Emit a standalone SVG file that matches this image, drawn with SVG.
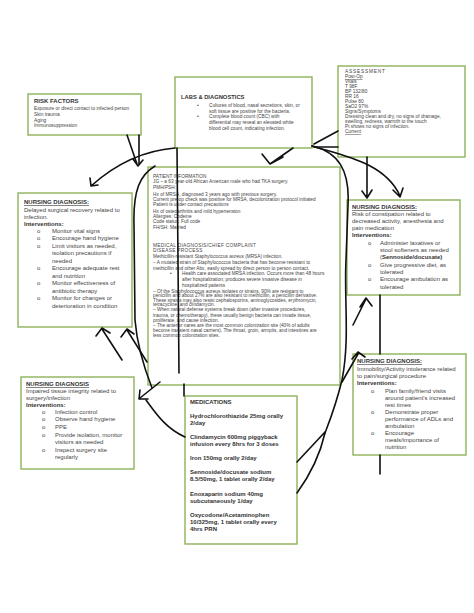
<svg xmlns="http://www.w3.org/2000/svg" width="474" height="613" viewBox="0 0 474 613">
<style>
.box{fill:#fff;stroke:#8db35a;stroke-width:1.4}
text{font-family:"Liberation Sans",Arial,sans-serif;fill:#444}
.f6{font-size:6px}
.f5{font-size:4.8px}
.f47{font-size:4.75px}
.b{font-weight:bold;fill:#333}
.u{text-decoration:underline}
.c{fill:none;stroke:#111;stroke-width:1.6;stroke-linecap:round;stroke-linejoin:round}
</style>
<rect width="474" height="613" fill="#fff"/>

<g id="risk-factors">
<rect class="box" x="28" y="94" width="113" height="41"/>
<text class="f6 b" x="34" y="103">RISK FACTORS</text>
<text class="f5" x="34" y="110">Exposure or direct contact to infected person</text>
<text class="f5" x="34" y="116">Skin trauma</text>
<text class="f5" x="34" y="121.5">Aging</text>
<text class="f5" x="34" y="127">Immunosuppression</text>
</g>

<g id="labs">
<rect class="box" x="175" y="77" width="137" height="71"/>
<text class="b" style="font-size:5.8px" x="181" y="99">LABS &amp; DIAGNOSTICS</text>
<text class="f47" x="197" y="107">•</text>
<text class="f47" x="209" y="107">Cultures of blood, nasal secretions, skin, or</text>
<text class="f47" x="209" y="113">soft tissue are positive for the bacteria.</text>
<text class="f47" x="197" y="118">•</text>
<text class="f47" x="209" y="118">Complete blood count (CBC) with</text>
<text class="f47" x="209" y="124">differential may reveal an elevated white</text>
<text class="f47" x="209" y="130">blood cell count, indicating infection.</text>
</g>

<g id="assessment">
<rect class="box" x="338" y="66" width="127" height="91"/>
<text class="f5" x="345" y="73" letter-spacing="0.8">ASSESSMENT</text>
<text class="f5 u" x="345" y="78">Post-Op</text>
<text class="f5" x="345" y="83">Vitals</text>
<text class="f5" x="345" y="88">T 98F</text>
<text class="f5" x="345" y="93">BP 132/80</text>
<text class="f5" x="345" y="98">RR 16</text>
<text class="f5" x="345" y="103">Pulse 80</text>
<text class="f5" x="345" y="108">SaO2 97%</text>
<text class="f5" x="345" y="113">Signs/Symptoms</text>
<text class="f5" x="345" y="118">Dressing clean and dry, no signs of drainage,</text>
<text class="f5" x="345" y="123">swelling, redness, warmth to the touch</text>
<text class="f5" x="345" y="128">Pt shows no signs of infection.</text>
<text class="f5 u" x="345" y="133">Current</text>
</g>

<g id="nd-recovery">
<rect class="box" x="18" y="193" width="114" height="134"/>
<text class="f6 b u" x="24" y="204">NURSING DIAGNOSIS:</text>
<text class="f6" x="24" y="212">Delayed surgical recovery related to</text>
<text class="f6" x="24" y="219">infection.</text>
<text class="f6 b" x="24" y="226">Interventions:</text>
<text class="f6" x="37" y="233">o</text><text class="f6" x="52" y="233">Monitor vital signs</text>
<text class="f6" x="37" y="240">o</text><text class="f6" x="52" y="240">Encourage hand hygiene</text>
<text class="f6" x="37" y="248">o</text><text class="f6" x="52" y="248">Limit visitors as needed,</text>
<text class="f6" x="52" y="255">isolation precautions if</text>
<text class="f6" x="52" y="263">needed</text>
<text class="f6" x="37" y="270">o</text><text class="f6" x="52" y="270">Encourage adequate rest</text>
<text class="f6" x="52" y="278">and nutrition</text>
<text class="f6" x="37" y="285">o</text><text class="f6" x="52" y="285">Monitor effectiveness of</text>
<text class="f6" x="52" y="293">antibiotic therapy</text>
<text class="f6" x="37" y="300">o</text><text class="f6" x="52" y="300">Monitor for changes or</text>
<text class="f6" x="52" y="308">deterioration in condition</text>
</g>

<g id="patient-info">
<rect class="box" x="148" y="167" width="192" height="218"/>
<text class="f47" x="153" y="177.5">PATIENT INFORMATION</text>
<text class="f47" x="153" y="183">JG – a 63 year-old African American male who had TKA surgery.</text>
<text class="f47" x="153" y="188.5">PMH/PSH:</text>
<text class="f47" x="153" y="195.5">Hx of MRSA, diagnosed 3 years ago with previous surgery.</text>
<text class="f47" x="153" y="200.5">Current pre-op check was positive for MRSA, decolonization protocol initiated</text>
<text class="f47" x="153" y="205.5">Patient is under contact precautions</text>
<text class="f47" x="153" y="212.5">Hx of osteoarthritis and mild hypertension</text>
<text class="f47" x="153" y="218">Allergies: Codeine</text>
<text class="f47" x="153" y="223">Code status: Full code</text>
<text class="f47" x="153" y="229">FH/SH: Married</text>
<text class="f47" x="153" y="246.5" letter-spacing="0.3">MEDICAL DIAGNOSIS/CHIEF COMPLAINT</text>
<text class="f47" x="153" y="251.5" letter-spacing="0.3">DISEASE PROCESS</text>
<text class="f47" x="153" y="257.5">Methicillin-resistant Staphylococcus aureus (MRSA) infection.</text>
<text class="f47" x="153" y="263.5">– A mutated strain of Staphylococcus bacteria that has become resistant to</text>
<text class="f47" x="153" y="269.5">methicillin and other Abx, easily spread by direct person to person contact.</text>
<text class="f47" x="170" y="275">•</text>
<text class="f47" x="182" y="275">Health care associated MRSA infection. Occurs more than 48 hours</text>
<text class="f47" x="182" y="280.5">after hospitalization; produces severe invasive disease in</text>
<text class="f47" x="182" y="286.5">hospitalized patients</text>
<text class="f47" x="153" y="292.5">– Of the Staphylococcus aureus isolates or strains, 90% are resistant to</text>
<text class="f47" x="153" y="297">penicillin and about 27% are also resistant to methicillin, a penicillin derivative.</text>
<text class="f47" x="153" y="301.5">These strains may also resist cephalosporins, aminoglycosides, erythromycin,</text>
<text class="f47" x="153" y="306">tetracycline, and clindamycin.</text>
<text class="f47" x="153" y="311">– When natural defense systems break down (after invasive procedures,</text>
<text class="f47" x="153" y="316.5">trauma, or chemotherapy), these usually benign bacteria can invade tissue,</text>
<text class="f47" x="153" y="321.5">proliferate, and cause infection.</text>
<text class="f47" x="153" y="326.5">– The anterior nares are the most common colonization site (40% of adults</text>
<text class="f47" x="153" y="331.5">become transient nasal carriers). The throat, groin, armpits, and intestines are</text>
<text class="f47" x="153" y="336.5">less common colonization sites.</text>
</g>

<g id="nd-constipation">
<rect class="box" x="347" y="200" width="113" height="95"/>
<text class="f6 b u" x="352" y="209">NURSING DIAGNOSIS:</text>
<text class="f6" x="352" y="216">Risk of constipation related to</text>
<text class="f6" x="352" y="223">decreased activity, anesthesia and</text>
<text class="f6" x="352" y="230">pain medication</text>
<text class="f6 b" x="352" y="237">Interventions:</text>
<text class="f6" x="368" y="245">o</text><text class="f6" x="380" y="245">Administer laxatives or</text>
<text class="f6" x="380" y="252">stool softeners as needed</text>
<text class="f6" x="380" y="259">(<tspan class="b">Sennoside/docusate)</tspan></text>
<text class="f6" x="368" y="267">o</text><text class="f6" x="380" y="267">Give progressive diet, as</text>
<text class="f6" x="380" y="274">tolerated</text>
<text class="f6" x="368" y="281">o</text><text class="f6" x="380" y="281">Encourage ambulation as</text>
<text class="f6" x="380" y="289">tolerated</text>
</g>

<g id="nd-mobility">
<rect class="box" x="353" y="354" width="113" height="101"/>
<text class="f6 b u" x="357" y="363">NURSING DIAGNOSIS:</text>
<text class="f6" x="357" y="371">Immobility/Activity intolerance related</text>
<text class="f6" x="357" y="378">to pain/surgical procedure</text>
<text class="f6 b" x="357" y="385">Interventions:</text>
<text class="f6" x="371" y="393">o</text><text class="f6" x="385" y="393">Plan family/friend visits</text>
<text class="f6" x="385" y="400">around patient's increased</text>
<text class="f6" x="385" y="407">rest times</text>
<text class="f6" x="371" y="414">o</text><text class="f6" x="385" y="414">Demonstrate proper</text>
<text class="f6" x="385" y="421">performance of ADLs and</text>
<text class="f6" x="385" y="428">ambulation</text>
<text class="f6" x="371" y="435">o</text><text class="f6" x="385" y="435">Encourage</text>
<text class="f6" x="385" y="442">meals/importance of</text>
<text class="f6" x="385" y="449">nutrition</text>
</g>

<g id="nd-tissue">
<rect class="box" x="21" y="377" width="113" height="92"/>
<text class="f6 b u" x="26" y="386">NURSING DIAGNOSIS</text>
<text class="f6" x="26" y="393">Impaired tissue integrity related to</text>
<text class="f6" x="26" y="400">surgery/infection</text>
<text class="f6 b" x="26" y="407">Interventions:</text>
<text class="f6" x="42" y="414">o</text><text class="f6" x="55" y="414">Infection control</text>
<text class="f6" x="42" y="421">o</text><text class="f6" x="55" y="421">Observe hand hygiene</text>
<text class="f6" x="42" y="429">o</text><text class="f6" x="55" y="429">PPE</text>
<text class="f6" x="42" y="437">o</text><text class="f6" x="55" y="437">Provide isolation, monitor</text>
<text class="f6" x="55" y="444">visitors as needed</text>
<text class="f6" x="42" y="452">o</text><text class="f6" x="55" y="452">Inspect surgery site</text>
<text class="f6" x="55" y="459">regularly</text>
</g>

<g id="medications">
<rect class="box" x="185" y="396" width="112" height="148"/>
<text class="f6 b" x="190" y="404">MEDICATIONS</text>
<text class="f6 b" x="190" y="418">Hydrochlorothiazide 25mg orally</text>
<text class="f6 b" x="190" y="425">2/day</text>
<text class="f6 b" x="190" y="439">Clindamycin 600mg piggyback</text>
<text class="f6 b" x="190" y="446">infusion every 8hrs for 3 doses</text>
<text class="f6 b" x="190" y="460">Iron 150mg orally 2/day</text>
<text class="f6 b" x="190" y="474">Sennoside/docusate sodium</text>
<text class="f6 b" x="190" y="481">8.5/50mg, 1 tablet orally 2/day</text>
<text class="f6 b" x="190" y="496">Enoxaparin sodium 40mg</text>
<text class="f6 b" x="190" y="503">subcutaneously 1/day</text>
<text class="f6 b" x="190" y="517">Oxycodone/Acetaminophen</text>
<text class="f6 b" x="190" y="524">10/325mg, 1 tablet orally every</text>
<text class="f6 b" x="190" y="531">4hrs PRN</text>
</g>

<g id="connectors" class="c">
<path d="M127,135 L137,164 M139,135 L139,165 M133,159 L138,166 L143,160"/>
<path d="M175,148 C150,150 120,160 91,186 M90,178 L91,186 L98,185"/>
<path d="M177,148 L179,373 M184,384 L184,396"/>
<path d="M293,148 L270,164 M262,154 L270,164 L283,157"/>
<path d="M338,131 L314,144 M314,147 L338,147"/>
<path d="M312,146 C340,155 385,162 400,196 M393,190 L400,197 L403,188"/>
<path d="M367,157 L367,198 M362,191 L367,198 L372,190"/>
<path d="M312,146 C338,152 350,170 348,205 L346,260 C344,300 350,340 342,380 C336,405 330,420 325,433"/>
<path d="M297,462 L325,432 M297,493 C310,475 320,455 325,433"/>
<path d="M353,325 L366,299 M360,307 L366,298 L372,306"/>
<path d="M380,295 L380,354 M380,455 L380,474"/>
<path d="M342,382 L358,354 M352,359 L358,352 L365,357"/>
<path d="M155,166 C140,175 133,190 134,225 L135,320 C137,345 143,365 152,388"/>
<path d="M122,360 L102,329 M96,336 L102,328 L110,333 M147,362 L127,330 M121,337 L127,329 L134,334"/>
<path d="M160,382 L140,398 M140,390 L139,399 L148,399"/>
<path d="M146,400 C155,412 165,428 185,437"/>
</g>
</svg>
